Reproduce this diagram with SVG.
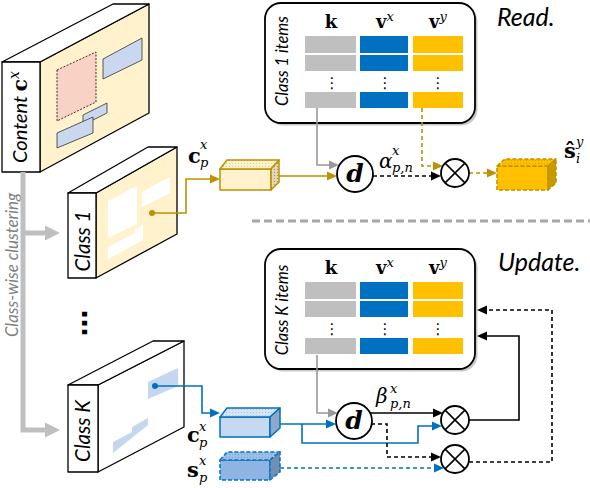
<svg xmlns="http://www.w3.org/2000/svg" width="590" height="488" viewBox="0 0 590 488">
<defs>
<style>
.sans{font-family:Lato,"Open Sans","DejaVu Sans",sans-serif;font-style:italic}
.mb{font-family:"DejaVu Serif","Liberation Serif",serif;font-weight:bold}
.mi{font-family:"DejaVu Serif","Liberation Serif",serif;font-style:italic}
.e{fill:none;stroke-width:1.6}
.gold{stroke:#BF9000}
.blue{stroke:#0070C0}
.gray{stroke:#999}
.blk{stroke:#000}
.dash{stroke-dasharray:4 3}
.box{stroke:#000;stroke-width:1.3;stroke-linejoin:round}
.op{fill:#fff;stroke:#000;stroke-width:1.8}
.k{fill:#BFBFBF}
.vx{fill:#0070C0}
.vy{fill:#FFC000}
.vd{font-family:"DejaVu Sans",sans-serif;font-size:15px}
</style>
<marker id="aGold" markerUnits="userSpaceOnUse" markerWidth="10" markerHeight="10" viewBox="0 0 10 10" refX="8" refY="5" orient="auto"><path d="M0,0.5 L10,5 L0,9.5z" fill="#BF9000"/></marker>
<marker id="aBlue" markerUnits="userSpaceOnUse" markerWidth="10" markerHeight="10" viewBox="0 0 10 10" refX="8" refY="5" orient="auto"><path d="M0,0.5 L10,5 L0,9.5z" fill="#0070C0"/></marker>
<marker id="aGray" markerUnits="userSpaceOnUse" markerWidth="10" markerHeight="10" viewBox="0 0 10 10" refX="8" refY="5" orient="auto"><path d="M0,0.5 L10,5 L0,9.5z" fill="#999"/></marker>
<marker id="aBlk" markerUnits="userSpaceOnUse" markerWidth="10" markerHeight="10" viewBox="0 0 10 10" refX="8" refY="5" orient="auto"><path d="M0,0.5 L10,5 L0,9.5z" fill="#000"/></marker>
<marker id="aClu" markerUnits="userSpaceOnUse" markerWidth="15" markerHeight="15" viewBox="0 0 15 15" refX="5" refY="7.5" orient="auto"><path d="M0,0 L15,7.5 L0,15z" fill="#BFBFBF"/></marker>
<pattern id="dotY" width="3" height="3" patternUnits="userSpaceOnUse"><rect width="3" height="3" fill="#FFF2CC"/><circle cx="1.5" cy="1.5" r="0.5" fill="#D9C48A"/></pattern>
<pattern id="dotYR" width="3" height="3" patternUnits="userSpaceOnUse"><rect width="3" height="3" fill="#E4D8B4"/><circle cx="1.5" cy="1.5" r="0.6" fill="#9C8A5A"/></pattern>
<pattern id="dotG" width="3" height="3" patternUnits="userSpaceOnUse"><rect width="3" height="3" fill="#FFC000"/><circle cx="1.5" cy="1.5" r="0.6" fill="#D9A300"/></pattern>
<pattern id="dotB" width="3" height="3" patternUnits="userSpaceOnUse"><rect width="3" height="3" fill="#D6E4F5"/><circle cx="1.5" cy="1.5" r="0.5" fill="#9DB8DA"/></pattern>
<pattern id="dotBD" width="3" height="3" patternUnits="userSpaceOnUse"><rect width="3" height="3" fill="#9DC0E8"/><circle cx="1.5" cy="1.5" r="0.5" fill="#6F95C4"/></pattern>
</defs>
<rect width="590" height="488" fill="#fff"/>

<!-- Content -->
<g id="content">
<polygon points="40,62 149,4 149,113 40,172" fill="#FFF2CC" class="box"/>
<polygon points="2,62 40,62 149,4 113,4" fill="#fff" class="box"/>
<rect x="2" y="62" width="38" height="110" fill="#fff" class="box"/>
<polygon points="57,70 96,52 96,102 57,121" fill="#F8D2C4" stroke="#000" stroke-width="0.8" stroke-dasharray="2 1.5"/>
<polygon points="103,59 142,38 142,60 103,79" fill="#C9D8EF" stroke="#333" stroke-width="0.8"/>
<polygon points="83,115 107,103 107,113 83,125" fill="#C9D8EF" stroke="#333" stroke-width="0.8"/>
<polygon points="57,133 93,117 93,133 57,148" fill="#C9D8EF" stroke="#333" stroke-width="0.8"/>
<text transform="translate(27,117) rotate(-90)" text-anchor="middle" font-size="20"><tspan class="sans">Content </tspan><tspan class="mb">c</tspan><tspan class="mi" font-size="14" dy="-8">x</tspan></text>
</g>

<!-- Class 1 -->
<g id="class1">
<polygon points="96,193 177,147 177,234 96,278" fill="#FFF2CC" class="box"/>
<polygon points="68,193 96,193 177,147 148,147" fill="#fff" class="box"/>
<rect x="68" y="193" width="28" height="85" fill="#fff" class="box"/>
<polygon points="108,201 137,186 137,224 108,238" fill="#fff"/>
<polygon points="142,192 170,177 170,193 142,207" fill="#fff"/>
<polygon points="108,247 135,233 135,229 143,225 143,240 108,259" fill="#fff"/>
<text class="sans" transform="translate(90,241) rotate(-90)" text-anchor="middle" font-size="20.5">Class 1</text>
</g>

<!-- Class K -->
<g id="classK">
<polygon points="98,385 184,341 184,427 98,472" fill="#fff" class="box"/>
<polygon points="68,385 98,385 184,341 153,341" fill="#fff" class="box"/>
<rect x="68" y="385" width="30" height="87" fill="#fff" class="box"/>
<polygon points="148,382 178,368 178,386 148,399" fill="#C5D6EF"/>
<polygon points="113,442 132,432 132,427 148,418 148,425 113,453" fill="#C5D6EF"/>
<text class="sans" transform="translate(90,431) rotate(-90)" text-anchor="middle" font-size="20.5">Class K</text>
</g>

<g id="ellipsis">
<text transform="translate(81.5,323) rotate(90)" text-anchor="middle" font-family="DejaVu Sans,sans-serif" font-weight="bold" font-size="27">…</text>
</g>

<g id="clustering-label">
<text class="sans" transform="translate(17.5,265) rotate(-90)" text-anchor="middle" font-size="16.8" fill="#7F7F7F">Class-wise clustering</text>
</g>

<!-- Read memory -->
<g id="memory-read">
<rect x="267.5" y="5.5" width="210" height="120" rx="16" fill="#C8C8C8"/>
<rect x="265" y="3" width="210" height="120" rx="16" class="op"/>
<text class="sans" transform="translate(288,61) rotate(-90)" text-anchor="middle" font-size="16.5">Class 1 items</text>
<text class="mb" x="331" y="28" text-anchor="middle" font-size="18">k</text>
<text x="385" y="28" text-anchor="middle" font-size="18"><tspan class="mb">v</tspan><tspan class="mi" font-size="13" dy="-7">x</tspan></text>
<text x="438" y="28" text-anchor="middle" font-size="18"><tspan class="mb">v</tspan><tspan class="mi" font-size="13" dy="-7">y</tspan></text>
<rect class="k" x="305" y="36" width="51" height="17"/>
<rect class="k" x="305" y="55" width="51" height="16"/>
<rect class="k" x="305" y="92" width="51" height="16"/>
<rect class="vx" x="360" y="36" width="48" height="17"/>
<rect class="vx" x="360" y="55" width="48" height="16"/>
<rect class="vx" x="360" y="92" width="48" height="16"/>
<rect class="vy" x="413" y="36" width="50" height="17"/>
<rect class="vy" x="413" y="55" width="50" height="16"/>
<rect class="vy" x="413" y="92" width="50" height="16"/>
<text class="vd" x="332" y="88" text-anchor="middle">⋮</text>
<text class="vd" x="385" y="88" text-anchor="middle">⋮</text>
<text class="vd" x="438" y="88" text-anchor="middle">⋮</text>
</g>
<text id="read-title" class="sans" x="497" y="26" font-size="25">Read.</text>

<!-- Update memory -->
<g id="memory-update" transform="translate(0,246)">
<rect x="267.5" y="5.5" width="210" height="120" rx="16" fill="#C8C8C8"/>
<rect x="265" y="3" width="210" height="120" rx="16" class="op"/>
<text class="sans" transform="translate(288,64) rotate(-90)" text-anchor="middle" font-size="16.5">Class K items</text>
<text class="mb" x="331" y="28" text-anchor="middle" font-size="18">k</text>
<text x="385" y="28" text-anchor="middle" font-size="18"><tspan class="mb">v</tspan><tspan class="mi" font-size="13" dy="-7">x</tspan></text>
<text x="438" y="28" text-anchor="middle" font-size="18"><tspan class="mb">v</tspan><tspan class="mi" font-size="13" dy="-7">y</tspan></text>
<rect class="k" x="305" y="36" width="51" height="17"/>
<rect class="k" x="305" y="55" width="51" height="16"/>
<rect class="k" x="305" y="92" width="51" height="16"/>
<rect class="vx" x="360" y="36" width="48" height="17"/>
<rect class="vx" x="360" y="55" width="48" height="16"/>
<rect class="vx" x="360" y="92" width="48" height="16"/>
<rect class="vy" x="413" y="36" width="50" height="17"/>
<rect class="vy" x="413" y="55" width="50" height="16"/>
<rect class="vy" x="413" y="92" width="50" height="16"/>
<text class="vd" x="332" y="88" text-anchor="middle">⋮</text>
<text class="vd" x="385" y="88" text-anchor="middle">⋮</text>
<text class="vd" x="438" y="88" text-anchor="middle">⋮</text>
</g>
<text id="update-title" class="sans" x="498" y="271" font-size="25">Update.</text>

<line id="separator" x1="252" y1="221" x2="590" y2="221" stroke="#A6A6A6" stroke-width="3" stroke-dasharray="8 4"/>

<!-- connectors -->
<g id="connectors">
<path d="M23,172 V430 H50" fill="none" stroke="#BFBFBF" stroke-width="5" marker-end="url(#aClu)"/>
<path d="M23,233 H50" fill="none" stroke="#BFBFBF" stroke-width="5" marker-end="url(#aClu)"/>
<circle cx="152" cy="213" r="3" fill="#BF9000"/>
<path class="e gold" d="M152,213 H186 V179 H218" marker-end="url(#aGold)"/>
<path class="e gold" d="M279,176 H335" marker-end="url(#aGold)"/>
<path class="e gray" d="M317,108 V165 H337" marker-end="url(#aGray)"/>
<path class="e blk dash" d="M373,176 H439" marker-end="url(#aBlk)"/>
<path class="e gold dash" d="M422,108 V166 H441" marker-end="url(#aGold)"/>
<path class="e gold dash" d="M469,173 H495" marker-end="url(#aGold)"/>

<circle cx="155" cy="386" r="3" fill="#0070C0"/>
<path class="e blue" d="M155,386 H202 V413 H218" marker-end="url(#aBlue)"/>
<path class="e blue" d="M280,424 H334" marker-end="url(#aBlue)"/>
<path class="e blue" d="M302,424 V443 H418 V426 H440" marker-end="url(#aBlue)"/>
<path class="e gray" d="M317,355 V413 H336" marker-end="url(#aGray)"/>
<path class="e blk" d="M370,413 H441" marker-end="url(#aBlk)"/>
<path class="e blk dash" d="M371,424 H387 V457 H439" marker-end="url(#aBlk)"/>
<path class="e blue dash" d="M280,468 H442" marker-end="url(#aBlue)"/>
<path class="e blk" d="M469,420 H519 V336 H479" marker-end="url(#aBlk)"/>
<path class="e blk dash" d="M469,462 H552 V310 H479" marker-end="url(#aBlk)"/>
</g>

<!-- cubes -->
<g id="cube-cp-read" stroke="#BF9000" stroke-width="1.5" stroke-linejoin="round">
<rect x="220" y="169" width="51" height="21" fill="#FFF2CC"/>
<polygon points="220,169 227,160 279,160 271,169" fill="url(#dotY)"/>
<polygon points="271,169 279,160 279,182 271,190" fill="url(#dotYR)"/>
</g>
<g id="cube-s-hat" stroke="#BF9000" stroke-width="1.5" stroke-linejoin="round" stroke-dasharray="4 2">
<rect x="497" y="166" width="51" height="24" fill="#FFC000"/>
<polygon points="497,166 505,159 556,159 548,166" fill="url(#dotG)"/>
<polygon points="548,166 556,159 556,183 548,190" fill="#C99A00"/>
</g>
<g id="cube-cp-update" stroke="#0070C0" stroke-width="1.5" stroke-linejoin="round">
<rect x="220" y="417" width="50" height="20" fill="#C5D9F1"/>
<polygon points="220,417 227,408 280,408 270,417" fill="url(#dotB)"/>
<polygon points="270,417 280,408 280,428 270,437" fill="#8EA9C8"/>
</g>
<g id="cube-sp" stroke="#0070C0" stroke-width="1.5" stroke-linejoin="round" stroke-dasharray="4 2">
<rect x="220" y="460" width="50" height="20" fill="#8DB4E2"/>
<polygon points="220,460 227,452 280,452 270,460" fill="url(#dotBD)"/>
<polygon points="270,460 280,452 280,472 270,480" fill="#6F8FB5"/>
</g>

<!-- operators -->
<g id="d-read">
<circle cx="355" cy="174" r="18" class="op"/>
<text class="mi" x="355" y="182" text-anchor="middle" font-size="25" font-weight="bold">d</text>
</g>
<g id="otimes-read">
<circle cx="455" cy="173" r="14" class="op"/>
<path d="M445.1,163.1 L464.9,182.9 M464.9,163.1 L445.1,182.9" stroke="#000" stroke-width="1.5"/>
</g>
<g id="d-update">
<circle cx="354" cy="421" r="18" class="op"/>
<text class="mi" x="354" y="429" text-anchor="middle" font-size="25" font-weight="bold">d</text>
</g>
<g id="otimes-update-1">
<circle cx="455" cy="420" r="14" class="op"/>
<path d="M445.1,410.1 L464.9,429.9 M464.9,410.1 L445.1,429.9" stroke="#000" stroke-width="1.5"/>
</g>
<g id="otimes-update-2">
<circle cx="455" cy="459" r="14" class="op"/>
<path d="M445.1,449.1 L464.9,468.9 M464.9,449.1 L445.1,468.9" stroke="#000" stroke-width="1.5"/>
</g>

<!-- labels -->
<g id="labels">
<text class="mb" x="188" y="163" font-size="21">c</text>
<text class="mi" x="200" y="149" font-size="13">x</text>
<text class="mi" x="200" y="167" font-size="13">p</text>

<text class="mi" x="379" y="168" font-size="20">α</text>
<text class="mi" x="392" y="155" font-size="13">x</text>
<text class="mi" x="392" y="172" font-size="13">p,n</text>

<text class="mb" x="564" y="158" font-size="21">ŝ</text>
<text class="mi" x="576" y="146" font-size="13">y</text>
<text class="mi" x="576" y="163" font-size="13">i</text>

<text class="mi" x="376" y="403" font-size="20">β</text>
<text class="mi" x="390" y="393" font-size="13">x</text>
<text class="mi" x="390" y="408" font-size="13">p,n</text>

<text class="mb" x="187" y="442" font-size="21">c</text>
<text class="mi" x="199" y="431" font-size="13">x</text>
<text class="mi" x="199" y="447" font-size="13">p</text>

<text class="mb" x="187" y="477" font-size="21">s</text>
<text class="mi" x="199" y="465" font-size="13">x</text>
<text class="mi" x="199" y="482" font-size="13">p</text>
</g>
</svg>
